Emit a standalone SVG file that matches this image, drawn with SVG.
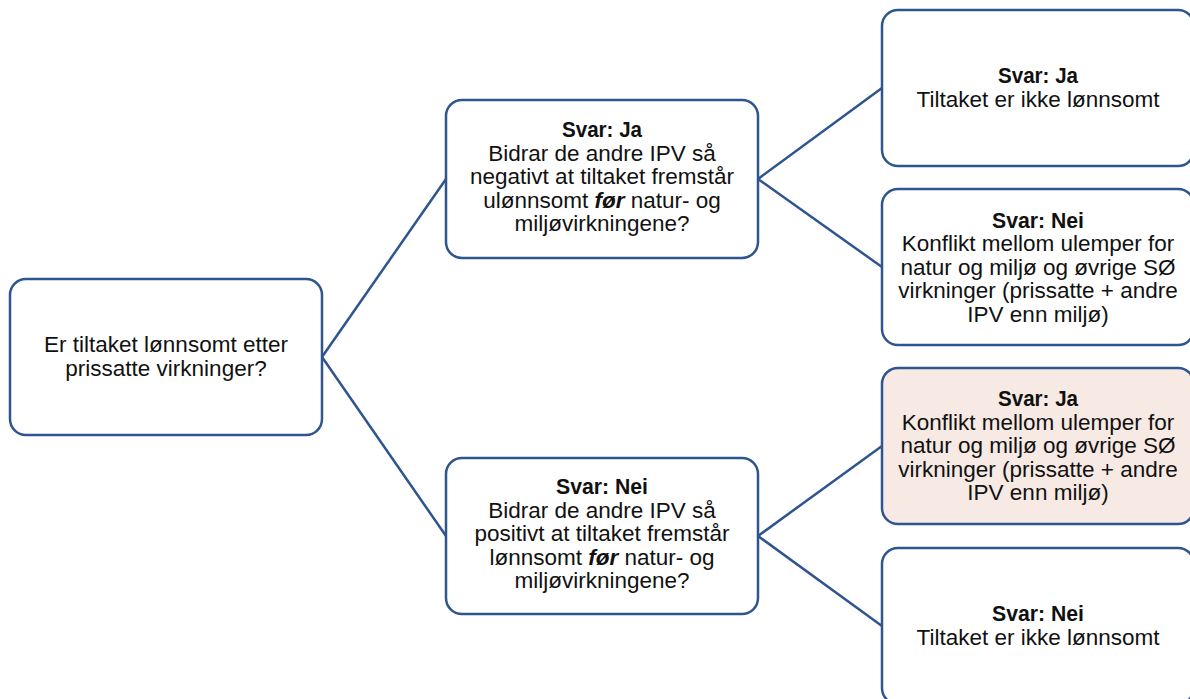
<svg xmlns="http://www.w3.org/2000/svg" width="1190" height="699" viewBox="0 0 1190 699">
<style>
.box{fill:#ffffff;stroke:#2F5590;stroke-width:2.5}
.hl{fill:#F7EAE4}
.conn{stroke:#2F5590;stroke-width:2.5;fill:none}
text{font-family:"Liberation Sans",Arial,sans-serif;font-size:22.5px;fill:#111111;text-anchor:middle}
.b{font-weight:bold}
.bi{font-weight:bold;font-style:italic}
</style>
<rect width="1190" height="699" fill="#ffffff"/>
<g id="connectors">
<path class="conn" d="M322,357 L446,179 M322,357 L446,536"/>
<path class="conn" d="M758,179 L882,88 M758,179 L882,267"/>
<path class="conn" d="M758,536 L882,446 M758,536 L882,626"/>
</g>
<g id="n-root">
<rect class="box" x="10" y="279" width="312" height="156" rx="16"/>
<text x="166" y="352">Er tiltaket lønnsomt etter</text>
<text x="166" y="375.5">prissatte virkninger?</text>
</g>
<g id="n-ja">
<rect class="box" x="446" y="100" width="312" height="158" rx="16"/>
<text x="602" y="137" class="b" textLength="80" lengthAdjust="spacingAndGlyphs">Svar: Ja</text>
<text x="602" y="160.5">Bidrar de andre IPV så</text>
<text x="602" y="184">negativt at tiltaket fremstår</text>
<text x="602" y="207.5">ulønnsomt <tspan class="bi">før</tspan> natur- og</text>
<text x="602" y="231">miljøvirkningene?</text>
</g>
<g id="n-nei">
<rect class="box" x="446" y="458" width="312" height="156" rx="16"/>
<text x="602" y="494" class="b" textLength="92" lengthAdjust="spacingAndGlyphs">Svar: Nei</text>
<text x="602" y="517.5">Bidrar de andre IPV så</text>
<text x="602" y="541">positivt at tiltaket fremstår</text>
<text x="602" y="564.5">lønnsomt <tspan class="bi">før</tspan> natur- og</text>
<text x="602" y="588">miljøvirkningene?</text>
</g>
<g id="n-ja-ja">
<rect class="box" x="882" y="10" width="312" height="156" rx="16"/>
<text x="1038" y="83" class="b" textLength="80" lengthAdjust="spacingAndGlyphs">Svar: Ja</text>
<text x="1038" y="107">Tiltaket er ikke lønnsomt</text>
</g>
<g id="n-ja-nei">
<rect class="box" x="882" y="189" width="312" height="156" rx="16"/>
<text x="1038" y="227.5" class="b" textLength="92" lengthAdjust="spacingAndGlyphs">Svar: Nei</text>
<text x="1038" y="251">Konflikt mellom ulemper for</text>
<text x="1038" y="274.5">natur og miljø og øvrige SØ</text>
<text x="1038" y="298">virkninger (prissatte + andre</text>
<text x="1038" y="321.5">IPV enn miljø)</text>
</g>
<g id="n-nei-ja">
<rect class="box hl" x="882" y="368" width="312" height="156" rx="16"/>
<text x="1038" y="406" class="b" textLength="80" lengthAdjust="spacingAndGlyphs">Svar: Ja</text>
<text x="1038" y="429.5">Konflikt mellom ulemper for</text>
<text x="1038" y="453">natur og miljø og øvrige SØ</text>
<text x="1038" y="476.5">virkninger (prissatte + andre</text>
<text x="1038" y="500">IPV enn miljø)</text>
</g>
<g id="n-nei-nei">
<rect class="box" x="882" y="548" width="312" height="156" rx="16"/>
<text x="1038" y="621" class="b" textLength="92" lengthAdjust="spacingAndGlyphs">Svar: Nei</text>
<text x="1038" y="645">Tiltaket er ikke lønnsomt</text>
</g>
</svg>
